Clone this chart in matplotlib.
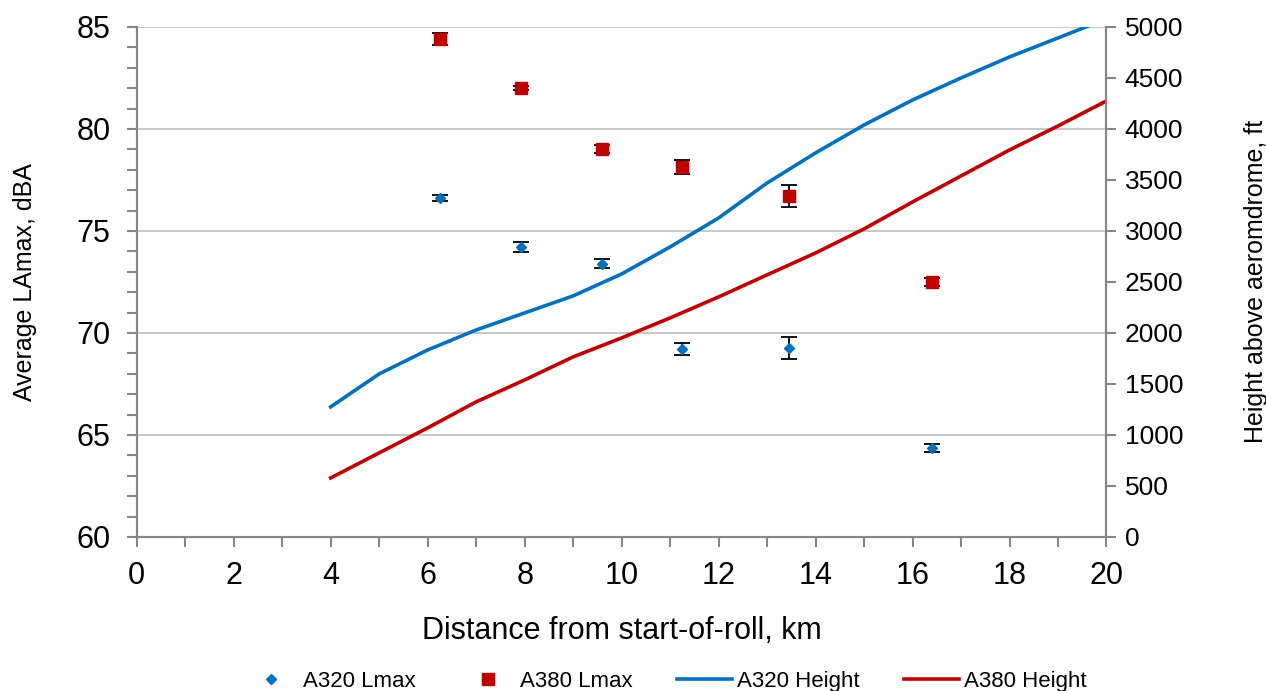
import matplotlib.pyplot as plt
from matplotlib.lines import Line2D
from matplotlib.ticker import MultipleLocator

plt.rcParams['font.family'] = ['Liberation Sans', 'DejaVu Sans']

# measured Lmax points
dist = [6.25, 7.93, 9.6, 11.25, 13.45, 16.4]
a320_lmax = [76.6, 74.2, 73.4, 69.2, 69.25, 64.35]
a320_err = [0.15, 0.25, 0.2, 0.3, 0.55, 0.2]
a380_lmax = [84.4, 82.0, 79.0, 78.15, 76.7, 72.5]
a380_err = [0.3, 0.1, 0.2, 0.35, 0.55, 0.2]

# height profiles
km = [4, 5, 6, 7, 8, 9, 10, 11, 12, 13, 14, 15, 16, 17, 18, 19, 20]
a320_height = [1275, 1598, 1833, 2029, 2196, 2363, 2578, 2843, 3127, 3470,
               3765, 4039, 4284, 4500, 4706, 4892, 5080]
a380_height = [578, 824, 1069, 1324, 1539, 1765, 1951, 2147, 2353, 2569,
               2784, 3020, 3284, 3539, 3794, 4029, 4275]

BLUE = '#0070C0'
RED = '#C00000'
GREY = '#868686'

fig = plt.figure(figsize=(12.66, 6.91), dpi=100)
ax = fig.add_axes([0.108, 0.223, 0.766, 0.738])
ax2 = ax.twinx()

ax.set_zorder(ax2.get_zorder() + 1)
ax.patch.set_visible(False)

ax.errorbar(dist, a320_lmax, yerr=a320_err, fmt='D', color=BLUE,
            markersize=5, ecolor='black', elinewidth=1.3, capsize=6,
            capthick=1.3)
ax.errorbar(dist, a380_lmax, yerr=a380_err, fmt='s', color=RED,
            markersize=9, ecolor='black', elinewidth=1.3, capsize=6,
            capthick=1.3)

ax2.plot(km, a320_height, color=BLUE, lw=2.6)
ax2.plot(km, a380_height, color=RED, lw=2.6)

ax.set_xlim(0, 20)
ax.set_ylim(60, 85)
ax2.set_ylim(0, 5000)
ax.xaxis.set_major_locator(MultipleLocator(2))
ax.xaxis.set_minor_locator(MultipleLocator(1))
ax.yaxis.set_major_locator(MultipleLocator(5))
ax.yaxis.set_minor_locator(MultipleLocator(1))
ax2.yaxis.set_major_locator(MultipleLocator(500))

for y in [65, 70, 75, 80, 85]:
    ax2.axhline(y * 200 - 12000, color='#C8C8C8', lw=1.5, zorder=0)

for a in (ax, ax2):
    for s in a.spines.values():
        s.set_color(GREY)
        s.set_linewidth(1.5)
    a.spines['top'].set_visible(False)
    a.tick_params(which='both', direction='out', length=7, width=1.5,
                  color=GREY, labelsize=22)

ax.tick_params(axis='x', pad=10)
ax.tick_params(axis='y', pad=12)
ax2.tick_params(axis='y', labelsize=19, pad=6)
ax.set_xlabel('Distance from start-of-roll, km', fontsize=22, labelpad=18)
ax.set_ylabel('Average LAmax, dBA', fontsize=18, labelpad=28)
ax2.set_ylabel('Height above aeromdrome, ft', fontsize=18, labelpad=44)

handles = [
    Line2D([], [], ls='none', marker='D', color=BLUE, markersize=5),
    Line2D([], [], ls='none', marker='s', color=RED, markersize=9),
    Line2D([], [], color=BLUE, lw=2.6),
    Line2D([], [], color=RED, lw=2.6),
]
fig.legend(handles,
           ['A320 Lmax', 'A380 Lmax', 'A320 Height', 'A380 Height'],
           loc='lower center', bbox_to_anchor=(0.525, -0.03), ncol=4,
           frameon=False, fontsize=16, handlelength=2.5, columnspacing=2.0,
           handletextpad=0.2)

fig.savefig('out.png', dpi=100)
